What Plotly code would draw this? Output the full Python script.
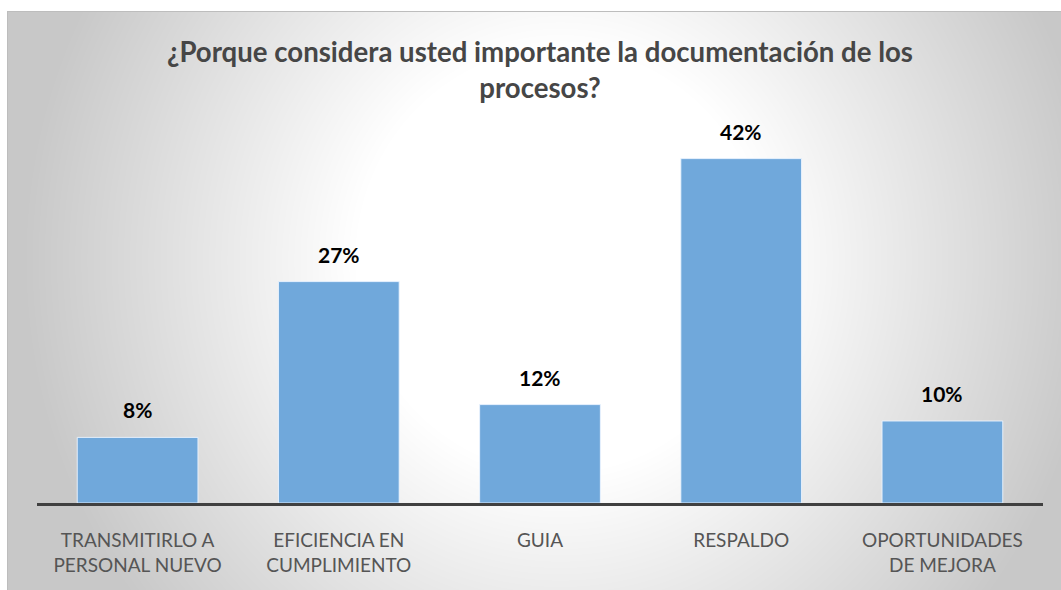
import base64
import struct
import zlib

import numpy as np
import plotly.graph_objects as go

# Survey results
categories = [
    "TRANSMITIRLO A<br>PERSONAL NUEVO",
    "EFICIENCIA EN<br>CUMPLIMIENTO",
    "GUIA",
    "RESPALDO",
    "OPORTUNIDADES<br>DE MEJORA",
]
percentages = [8, 27, 12, 42, 10]
title_text = "¿Porque considera usted importante la documentación de los<br>procesos?"

# Canvas / plot geometry (pixels)
W, H = 1061, 590
L, R, T, B = 37, 1043, 134, 503
Y_MAX = 45
BOX_X0, BOX_Y0 = 7, 11  # chart-area frame


def make_png(rgb):
    h, w, _ = rgb.shape
    raw = b"".join(b"\x00" + rgb[i].tobytes() for i in range(h))

    def chunk(tag, data):
        c = struct.pack(">I", len(data)) + tag + data
        return c + struct.pack(">I", zlib.crc32(tag + data) & 0xFFFFFFFF)

    sig = b"\x89PNG\r\n\x1a\n"
    ihdr = struct.pack(">IIBBBBB", w, h, 8, 2, 0, 0, 0)
    return sig + chunk(b"IHDR", ihdr) + chunk(b"IDAT", zlib.compress(raw, 9)) + chunk(b"IEND", b"")


# Radial white-to-grey chart-area fill
bw, bh = W - BOX_X0, H - BOX_Y0
yy, xx = np.mgrid[0:bh, 0:bw].astype(float)
cx, cy = 560 - BOX_X0, 260 - BOX_Y0
d = np.sqrt(((xx - cx) / 540.0) ** 2 + ((yy - cy) / 560.0) ** 2)
t = np.clip((d - 0.38) / 0.62, 0, 1)
g = (255 - 55 * t).astype(np.uint8)
bg = np.dstack([g, g, g])
bg_uri = "data:image/png;base64," + base64.b64encode(make_png(bg)).decode()

pw, ph = R - L, B - T


def px_to_paper_x(px):
    return (px - L) / pw


def px_to_paper_y(py):
    return (B - py) / ph


fig = go.Figure()
fig.add_trace(
    go.Bar(
        x=categories,
        y=percentages,
        marker=dict(color="#70A8DB", line=dict(color="rgba(235,244,255,0.9)", width=1)),
        hoverinfo="skip",
    )
)

for cat, val in zip(categories, percentages):
    fig.add_annotation(
        x=cat, y=val, text=f"<b>{val}%</b>", showarrow=False,
        yanchor="bottom", yshift=13,
        font=dict(family="Lato", size=21, color="#000000"),
    )

fig.add_layout_image(
    source=bg_uri, xref="paper", yref="paper",
    x=px_to_paper_x(BOX_X0), y=px_to_paper_y(BOX_Y0),
    sizex=bw / pw, sizey=bh / ph, sizing="stretch",
    xanchor="left", yanchor="top", layer="below",
)
fig.add_shape(
    type="line", xref="paper", yref="paper",
    x0=px_to_paper_x(BOX_X0), x1=px_to_paper_x(W),
    y0=px_to_paper_y(BOX_Y0 + 0.5), y1=px_to_paper_y(BOX_Y0 + 0.5),
    line=dict(color="#bdbdbd", width=1), layer="above",
)
fig.add_shape(
    type="line", xref="paper", yref="paper",
    x0=px_to_paper_x(BOX_X0 + 0.5), x1=px_to_paper_x(BOX_X0 + 0.5),
    y0=px_to_paper_y(BOX_Y0), y1=px_to_paper_y(H),
    line=dict(color="#bdbdbd", width=1), layer="above",
)

fig.update_layout(
    width=W, height=H,
    margin=dict(l=L, r=W - R, t=T, b=H - B, pad=0),
    paper_bgcolor="#ffffff",
    plot_bgcolor="rgba(0,0,0,0)",
    bargap=0.4,
    showlegend=False,
    title=dict(
        text=f"<b>{title_text}</b>",
        x=0.5, xref="paper", xanchor="center",
        y=1 - 62 / H, yref="container", yanchor="top",
        font=dict(family="Lato", size=27.6, color="#464646"),
    ),
    xaxis=dict(
        showline=True, linecolor="#404040", linewidth=3,
        showgrid=False, zeroline=False, ticks="",
        tickfont=dict(family="Lato", size=19, color="#555555"),
        ticklabelstandoff=18,
    ),
    yaxis=dict(
        range=[0, Y_MAX], visible=False, showgrid=False, zeroline=False,
    ),
)

fig.write_html("out.html", config={"displayModeBar": False})
